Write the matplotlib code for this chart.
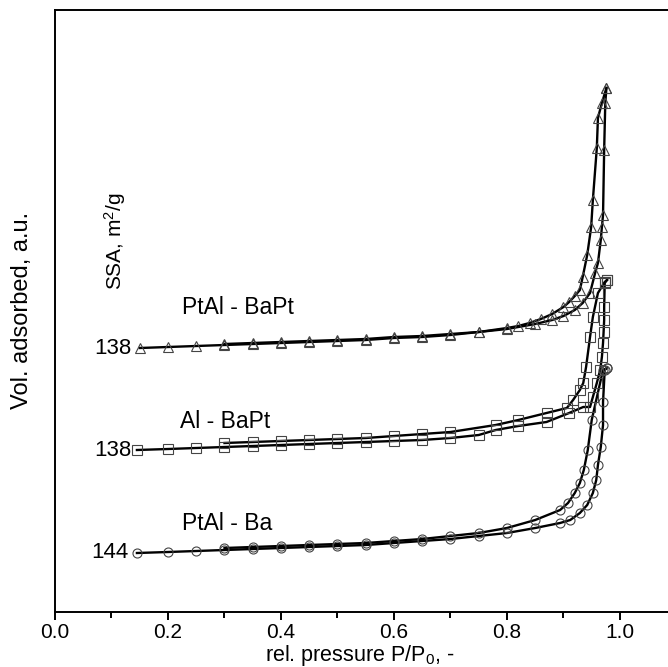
import matplotlib
matplotlib.use("Agg")
import matplotlib.pyplot as plt
from matplotlib.ticker import MultipleLocator

plt.rcParams['font.family'] = ['Liberation Sans', 'DejaVu Sans']
plt.rcParams['mathtext.fontset'] = 'custom'
plt.rcParams['mathtext.rm'] = 'Liberation Sans'
plt.rcParams['mathtext.it'] = 'Liberation Sans'
plt.rcParams['mathtext.default'] = 'regular'

# --- data (relative pressure, volume adsorbed in a.u.) ---
# PtAl - BaPt (triangles)
tri_ads_x = [0.15, 0.20, 0.25, 0.30, 0.35, 0.40, 0.45, 0.50, 0.55, 0.60, 0.65, 0.70, 0.75,
             0.80, 0.85, 0.88, 0.90, 0.92, 0.934, 0.947, 0.956, 0.961, 0.966, 0.968, 0.970,
             0.972, 0.974, 0.976]
tri_ads_y = [264, 265, 266, 267, 268, 269, 270, 271, 272, 274, 275, 277, 280,
             283, 288, 292, 296, 302, 309, 319, 339, 349, 372, 385, 397,
             462, 509, 524]
tri_des_x = [0.976, 0.968, 0.961, 0.959, 0.952, 0.949, 0.942, 0.934, 0.929, 0.92, 0.91,
             0.90, 0.88, 0.86, 0.84, 0.82, 0.80, 0.75, 0.70, 0.65, 0.60, 0.55, 0.50,
             0.45, 0.40, 0.35, 0.30]
tri_des_y = [524, 509, 494, 464, 412, 385, 357, 335, 322, 316, 310,
             305, 298, 293, 289, 286, 284, 280, 278, 276, 275, 273, 272,
             271, 270, 269, 268]

# Al - BaPt (squares)
sq_ads_x = [0.145, 0.20, 0.25, 0.30, 0.35, 0.40, 0.45, 0.50, 0.55, 0.60, 0.65, 0.70, 0.75,
            0.78, 0.82, 0.87, 0.91, 0.935, 0.947, 0.952, 0.959, 0.965, 0.968, 0.970,
            0.971, 0.972, 0.972, 0.973, 0.977]
sq_ads_y = [162, 163, 164, 165, 166, 167, 168, 169, 170, 171, 172, 174, 177,
            182, 186, 190, 199, 205, 205, 215, 229, 242, 255, 269,
            280, 292, 305, 329, 332]
sq_des_x = [0.977, 0.973, 0.961, 0.952, 0.947, 0.94, 0.935, 0.929, 0.917, 0.906, 0.87,
            0.82, 0.78, 0.70, 0.65, 0.60, 0.55, 0.50, 0.45, 0.40, 0.35, 0.30]
sq_des_y = [332, 330, 319, 295, 275, 245, 229, 222, 212, 204, 199,
            192, 187, 180, 178, 176, 174, 173, 172, 171, 170, 169]

# PtAl - Ba (circles)
ci_ads_x = [0.145, 0.20, 0.25, 0.30, 0.35, 0.40, 0.45, 0.50, 0.55, 0.60, 0.65, 0.70, 0.75,
            0.80, 0.85, 0.894, 0.912, 0.929, 0.942, 0.952, 0.958, 0.961, 0.966, 0.970,
            0.970, 0.973, 0.977]
ci_ads_y = [59, 60, 61, 62, 63, 64, 65, 66, 67, 69, 71, 73, 76,
            79, 84, 89, 92, 99, 107, 119, 132, 147, 165, 187,
            210, 242, 244]
ci_des_x = [0.977, 0.970, 0.950, 0.943, 0.936, 0.929, 0.920, 0.908, 0.894, 0.85, 0.80,
            0.75, 0.70, 0.65, 0.60, 0.55, 0.50, 0.45, 0.40, 0.35, 0.30]
ci_des_y = [244, 242, 192, 162, 142, 129, 119, 109, 102, 92, 84,
            79, 76, 73, 71, 69, 68, 67, 66, 65, 64]

series = [
    (tri_ads_x, tri_ads_y, tri_des_x, tri_des_y, '^'),
    (sq_ads_x, sq_ads_y, sq_des_x, sq_des_y, 's'),
    (ci_ads_x, ci_ads_y, ci_des_x, ci_des_y, 'o'),
]
labels = ["PtAl - BaPt", "Al - BaPt", "PtAl - Ba"]
ssa = ["138", "138", "144"]
xticks = [0.0, 0.2, 0.4, 0.6, 0.8, 1.0]
xticklabels = ["0.0", "0.2", "0.4", "0.6", "0.8", "1.0"]

W, H = 668, 667
fig = plt.figure(figsize=(W / 100, H / 100), dpi=100)
ax = fig.add_axes([55 / W, 55 / H, 613 / W, 602 / H])

for ax_x, ax_y, de_x, de_y, m in series:
    for xs, ys in ((ax_x, ax_y), (de_x, de_y)):
        ax.plot(xs, ys, color='black', lw=1.7, zorder=2)
        ax.plot(xs, ys, ls='none', marker=m, ms=6.5, mfc='none', mec='#444444',
                mew=0.8, zorder=3)

ax.set_xlim(0, 1.085)
ax.set_ylim(0, 602)
ax.spines['right'].set_visible(False)
for s in ax.spines.values():
    s.set_linewidth(1.4)
ax.set_yticks([])
ax.xaxis.set_minor_locator(MultipleLocator(0.1))
ax.set_xticks(xticks)
ax.set_xticklabels(xticklabels)
ax.tick_params(axis='x', which='major', direction='out', length=6, width=1.4,
               labelsize=15, pad=2)
ax.tick_params(axis='x', which='minor', direction='out', length=4, width=1.4)
ax.tick_params(axis='x', top=False)

fig.text(360 / W, 1 - 661 / H, "rel. pressure P/P$_0$, -", fontsize=15.5,
         ha='center', va='baseline')
fig.text(22 / W, 1 - 310 / H, "Vol. adsorbed, a.u.", fontsize=17, rotation=90,
         ha='center', va='center')

# annotations
label_pos = [(0.225, 305), (0.222, 190), (0.225, 88)]
ssa_pos = [(0.135, 264), (0.135, 162), (0.13, 59)]
for (lx, ly), t in zip(label_pos, labels):
    ax.text(lx, ly, t, fontsize=16.5, ha='left', va='center')
for (sx, sy), t in zip(ssa_pos, ssa):
    ax.text(sx, sy, t, fontsize=16, ha='right', va='center')
ax.text(0.106, 371, "SSA, m$^2$/g", fontsize=15, rotation=90, ha='center', va='center')

fig.savefig("out.png", dpi=100)
